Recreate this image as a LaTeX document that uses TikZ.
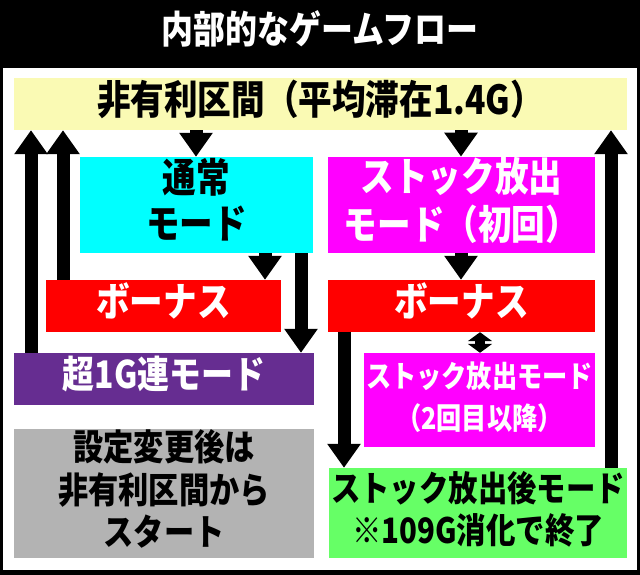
\documentclass[tikz,border=0pt]{standalone}
\usepackage{fontspec}
\newfontfamily\jp{Noto Sans CJK JP}
\usetikzlibrary{arrows.meta}
\definecolor{ylw}{HTML}{FAFAB4}
\definecolor{cyn}{HTML}{00FFFF}
\definecolor{mag}{HTML}{FF00FF}
\definecolor{rd}{HTML}{FF0000}
\definecolor{prp}{HTML}{662D91}
\definecolor{gry}{HTML}{B3B3B3}
\definecolor{grn}{HTML}{66FF66}
\newcommand{\cond}[3]{\makebox[0pt]{\scalebox{0.84}[1]{\fontsize{#1}{#2}\selectfont\begin{tabular}{@{}c@{}}#3\end{tabular}}}}
\begin{document}
\begin{tikzpicture}[x=1pt,y=-1pt,
  box/.style={inner sep=0pt,align=center,font=\jp\bfseries},
  arr/.style={line width=13pt,-{Triangle[width=32pt,length=24pt]}},
  darr/.style={line width=10pt,{Triangle[width=24pt,length=9pt]}-{Triangle[width=24pt,length=9pt]}}]
\fill[black] (0,0) rectangle (640,575);
\useasboundingbox (0,0) rectangle (640,575);
\fill[white] (3,68) rectangle (637,570);
\node[box,text=white] (title) at (320,33) {\cond{38}{42}{内部的なゲームフロー}};
\node[box,fill=ylw,minimum width=613pt,minimum height=52pt] (yl) at (320.5,104) {\cond{40}{44}{非有利区間（平均滞在1.4G）}};
\node[box,fill=cyn,minimum width=233pt,minimum height=96pt] (cy) at (196.5,205) {\cond{40}{46}{通常\\モード}};
\node[box,fill=mag,text=white,minimum width=267pt,minimum height=96pt] (mt) at (461.5,205) {\cond{40}{46}{ストック放出\\モード（初回）}};
\node[box,fill=rd,text=white,minimum width=235pt,minimum height=52pt] (rl) at (163.5,306) {\cond{40}{44}{ボーナス}};
\node[box,fill=rd,text=white,minimum width=267pt,minimum height=52pt] (rr) at (461.5,306) {\cond{40}{44}{ボーナス}};
\node[box,fill=prp,text=white,minimum width=300pt,minimum height=52pt] (pu) at (164,379) {\cond{38}{42}{超1G連モード}};
\node[box,fill=mag,text=white,minimum width=231pt,minimum height=94pt] (ms) at (479.5,400) {\cond{30}{42}{ストック放出モード\\（2回目以降）}};
\node[box,fill=gry,minimum width=300pt,minimum height=129pt] (gr) at (164,493.5) {\cond{36}{40}{設定変更後は\\非有利区間から\\スタート}};
\node[box,fill=grn,minimum width=298pt,minimum height=90pt] (gn) at (478,513) {\cond{35}{40}{ストック放出後モード\\※109G消化で終了}};
\draw[arr] (yl.south -| 196,0) -- (cy.north -| 196,0);
\draw[arr] (yl.south -| 461,0) -- (mt.north -| 461,0);
\draw[arr] (cy.south -| 265,0) -- (rl.north -| 265,0);
\draw[arr] (cy.south -| 301,0) -- (pu.north -| 301,0);
\draw[arr] (mt.south -| 461,0) -- (rr.north -| 461,0);
\draw[arr] (pu.north -| 31,0) -- (yl.south -| 31,0);
\draw[arr] (rl.north -| 63,0) -- (yl.south -| 63,0);
\draw[arr] (gn.north -| 611,0) -- (yl.south -| 611,0);
\draw[arr] (rr.south -| 344,0) -- (gn.north -| 344,0);
\draw[darr] (rr.south -| 480,0) -- (ms.north -| 480,0);
\end{tikzpicture}
\end{document}
